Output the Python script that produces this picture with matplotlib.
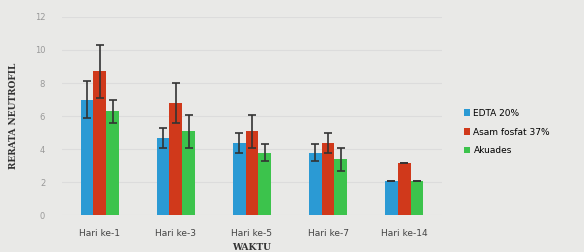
import matplotlib
matplotlib.use("Agg")
import matplotlib.pyplot as plt
import numpy as np

categories = ["Hari ke-1", "Hari ke-3", "Hari ke-5", "Hari ke-7", "Hari ke-14"]
series_names = ["EDTA 20%", "Asam fosfat 37%", "Akuades"]
edta = [7.0, 4.7, 4.4, 3.8, 2.1]
asam = [8.7, 6.8, 5.1, 4.4, 3.2]
akuades = [6.3, 5.1, 3.8, 3.4, 2.1]
edta_err = [1.1, 0.6, 0.6, 0.5, 0.0]
asam_err = [1.6, 1.2, 1.0, 0.6, 0.0]
akuades_err = [0.7, 1.0, 0.5, 0.7, 0.0]
yticks = [0, 2, 4, 6, 8, 10, 12]

colors = ["#2b9ad4", "#d0391b", "#3cc34c"]
bg = "#e9e9e7"

fig = plt.figure(figsize=(5.84, 2.52), dpi=100, facecolor=bg)
ax = fig.add_axes([0.106, 0.145, 0.651, 0.788], facecolor=bg)

x = np.arange(len(categories))
w = 0.17
for i, (vals, errs) in enumerate([(edta, edta_err), (asam, asam_err), (akuades, akuades_err)]):
    ax.bar(x + (i - 1) * w, vals, w, color=colors[i], label=series_names[i],
           yerr=errs, error_kw=dict(ecolor="#333333", elinewidth=1.2, capsize=3, capthick=1.2), zorder=3)

ax.set_xlim(-0.5, len(categories) - 0.5)
ax.set_ylim(0, 12)
ax.set_yticks(yticks)
ax.set_yticklabels([str(t) for t in yticks], fontsize=6, color="#999999")
ax.set_xticks(x)
ax.set_xticklabels(categories, fontsize=6.5, color="#444444")
ax.tick_params(axis="x", length=0, pad=10)
ax.tick_params(axis="y", length=0, pad=12)
ax.grid(axis="y", color="#dcdcdc", linewidth=0.8, zorder=0)
for s in ax.spines.values():
    s.set_visible(False)
ax.set_xlabel("WAKTU", fontsize=6.5, fontweight="bold", family="DejaVu Serif", color="#333333", labelpad=3)
ax.set_ylabel("RERATA NEUTROFIL", fontsize=6.5, fontweight="bold", family="DejaVu Serif", color="#333333", labelpad=12)

ax.legend(loc="center left", bbox_to_anchor=(1.035, 0.42), frameon=False, fontsize=6.5,
          handlelength=0.7, handleheight=0.7, handletextpad=0.4, labelspacing=1.1)

fig.savefig("out.png", dpi=100, facecolor=bg)
